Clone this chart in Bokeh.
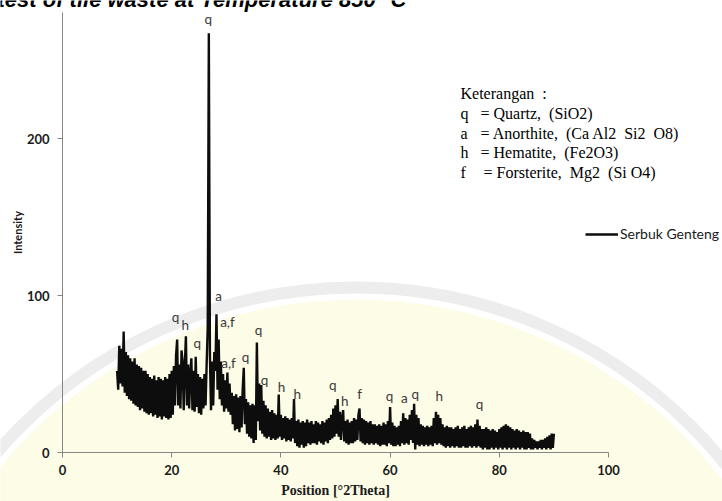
import numpy as np
from bokeh.plotting import figure
from bokeh.models import Range1d, Label, FixedTicker, ColumnDataSource
from bokeh.core.properties import value
from bokeh.embed import file_html
from bokeh.resources import INLINE

# ---- data: XRD pattern of "Serbuk Genteng", 0.2 deg steps from 10 to 90
START_DEG = 10.0
STEP_DEG = 0.2
intensity_rows = [
    [52, 40, 68, 44, 66],    # 10
    [42, 77, 38, 64, 36],    # 11
    [62, 34, 60, 33, 58],    # 12
    [31, 60, 30, 56, 29],    # 13
    [55, 27, 54, 28, 52],    # 14
    [26, 52, 25, 50, 24],    # 15
    [48, 25, 47, 23, 49],    # 16
    [24, 46, 22, 48, 23],    # 17
    [47, 21, 46, 23, 48],    # 18
    [22, 47, 21, 50, 22],    # 19
    [52, 24, 55, 30, 62],    # 20
    [72, 30, 56, 28, 65],    # 21
    [58, 27, 55, 74, 30],    # 22
    [56, 28, 50, 60, 27],    # 23
    [52, 26, 61, 29, 50],    # 24
    [25, 48, 24, 47, 28],    # 25
    [50, 30, 56, 80, 267],   # 26
    [62, 27, 58, 30, 64],    # 27
    [52, 88, 40, 72, 34],    # 28
    [58, 30, 50, 26, 46],    # 29
    [28, 51, 26, 44, 24],    # 30
    [38, 18, 36, 14, 37],    # 31
    [15, 35, 13, 36, 16],    # 32
    [40, 54, 18, 34, 12],    # 33
    [32, 10, 30, 9, 31],     # 34
    [6, 30, 8, 70, 20],      # 35
    [44, 14, 43, 12, 33],    # 36
    [10, 30, 9, 28, 10],     # 37
    [26, 8, 27, 9, 25],      # 38
    [8, 24, 9, 37, 10],      # 39
    [24, 8, 22, 9, 23],      # 40
    [7, 22, 8, 21, 7],       # 41
    [22, 9, 34, 6, 20],      # 42
    [4, 21, 3, 19, 5],       # 43
    [20, 3, 19, 4, 21],      # 44
    [6, 19, 5, 20, 6],       # 45
    [18, 6, 20, 5, 19],      # 46
    [7, 18, 6, 20, 5],       # 47
    [19, 7, 21, 6, 22],      # 48
    [8, 24, 9, 28, 10],      # 49
    [30, 12, 34, 10, 26],    # 50
    [8, 22, 27, 7, 20],      # 51
    [6, 21, 5, 19, 6],       # 52
    [20, 6, 22, 7, 21],      # 53
    [8, 24, 28, 7, 22],      # 54
    [6, 21, 5, 20, 6],       # 55
    [19, 5, 20, 6, 18],      # 56
    [5, 18, 6, 17, 5],       # 57
    [18, 4, 17, 5, 19],      # 58
    [5, 18, 4, 20, 6],       # 59
    [29, 5, 19, 4, 17],      # 60
    [4, 16, 5, 17, 4],       # 61
    [20, 6, 25, 5, 22],      # 62
    [6, 21, 5, 24, 8],       # 63
    [27, 6, 31, 2, 24],      # 64
    [5, 22, 4, 18, 5],       # 65
    [17, 4, 16, 5, 17],      # 66
    [4, 16, 5, 17, 4],       # 67
    [22, 6, 26, 5, 24],      # 68
    [6, 22, 5, 18, 4],       # 69
    [16, 3, 17, 4, 16],      # 70
    [3, 16, 4, 15, 3],       # 71
    [16, 4, 17, 3, 15],      # 72
    [3, 16, 4, 17, 3],       # 73
    [15, 3, 16, 4, 17],      # 74
    [3, 16, 4, 18, 3],       # 75
    [21, 4, 17, 3, 15],      # 76
    [2, 15, 3, 16, 2],       # 77
    [15, 2, 14, 3, 15],      # 78
    [2, 14, 3, 13, 2],       # 79
    [15, 3, 16, 2, 17],      # 80
    [3, 18, 2, 17, 3],       # 81
    [16, 2, 15, 3, 14],      # 82
    [2, 15, 3, 14, 2],       # 83
    [13, 3, 14, 2, 13],      # 84
    [2, 13, 3, 12, 2],       # 85
    [9, 2, 8, 3, 7],         # 86
    [2, 7, 3, 8, 2],         # 87
    [8, 3, 9, 2, 10],        # 88
    [3, 11, 2, 12, 3],       # 89
    [12],                    # 90
]
intensity = [v for row in intensity_rows for v in row]
two_theta = [round(START_DEG + i * STEP_DEG, 1) for i in range(len(intensity))]

# peak annotations
peak_labels = ["q", "a", "a,f", "q", "h", "q", "a,f", "q", "q", "q", "h", "h",
               "q", "h", "f", "q", "a", "q", "h", "q"]
peak_x = [26.7, 28.6, 30.2, 20.7, 22.5, 24.7, 30.4, 33.5, 35.9, 37.0, 40.1, 43.0,
          49.5, 51.7, 54.4, 59.9, 62.6, 64.6, 69.0, 76.4]
peak_y = [276, 100, 83, 86, 81, 70, 57, 61, 78, 46, 42, 37,
          43, 33, 37, 36, 35, 37, 36, 31]

NB = "\u00a0"
legend_title = "Keterangan" + NB + " :"
legend_keys = ["q", "a", "h", "f"]
legend_texts = ["= Quartz," + NB + " (SiO2)",
                "= Anorthite," + NB + " (Ca Al2" + NB + " Si2" + NB + " O8)",
                "= Hematite," + NB + " (Fe2O3)",
                "= Forsterite," + NB + " Mg2" + NB + " (Si O4)"]
series_name = "Serbuk Genteng"
title_text = "test of tile waste at Temperature 850 \u00b0C"

x_ticks = [0, 20, 40, 60, 80, 100]
y_ticks = [0, 100, 200]
X_AXIS_END = 100
Y_AXIS_END = 280

# watermark (decorative background): pale disc with a light grey rim
WM_CENTER = (53.8, -196.8)
WM_FILL_SIZE = (169.2, 588.5)
WM_RING_SIZE = (173.6, 603.8)

W, H = 722, 501
ORIGIN_PX, ORIGIN_PY = 62, 452   # where (0, 0) sits on the canvas
PX_PER_DEG = 5.46
PX_PER_UNIT = 1.57

p = figure(width=W, height=H, output_backend="svg", toolbar_location=None,
           x_range=Range1d(-ORIGIN_PX / PX_PER_DEG, (W - ORIGIN_PX) / PX_PER_DEG),
           y_range=Range1d(-(H - ORIGIN_PY) / PX_PER_UNIT, ORIGIN_PY / PX_PER_UNIT),
           min_border_left=0, min_border_right=0, min_border_top=0, min_border_bottom=0)
p.outline_line_color = None
p.grid.visible = False
p.background_fill_color = "white"
p.border_fill_color = "white"

p.ellipse(x=[WM_CENTER[0]], y=[WM_CENTER[1]], width=WM_FILL_SIZE[0], height=WM_FILL_SIZE[1],
          fill_color="#fdfce6", line_color=None, level="underlay")
p.ellipse(x=[WM_CENTER[0]], y=[WM_CENTER[1]], width=WM_RING_SIZE[0], height=WM_RING_SIZE[1],
          fill_color=None, line_color="#ededed", line_width=12, level="underlay")

src = ColumnDataSource(dict(x=two_theta, y=intensity))
p.line("x", "y", source=src, line_color="#0d0d0d", line_width=2.4, legend_label=series_name)

lab_src = ColumnDataSource(dict(x=peak_x, y=peak_y, t=peak_labels))
p.text("x", "y", text="t", source=lab_src, text_font=value("Lato"), text_font_size="13.5px",
       text_color="#3a3a3a", text_align="center", text_baseline="middle")

# axes, pinned at the data origin
for ax in (p.xaxis[0], p.yaxis[0]):
    ax.fixed_location = 0
    ax.axis_line_color = "#868686"
    ax.major_tick_line_color = "#868686"
    ax.major_tick_out = 5
    ax.major_tick_in = 0
    ax.minor_tick_line_color = None
    ax.major_label_text_font_style = "bold"
    ax.major_label_text_color = "#1a1a1a"
    ax.axis_label_text_color = "#1a1a1a"
    ax.axis_label_text_font_style = "bold"

p.xaxis.bounds = (0, X_AXIS_END)
p.yaxis.bounds = (0, Y_AXIS_END)
p.xaxis.ticker = FixedTicker(ticks=x_ticks)
p.yaxis.ticker = FixedTicker(ticks=y_ticks)
p.xaxis.major_label_text_font = "Lato"
p.xaxis.major_label_text_font_size = "13px"
p.xaxis.major_label_standoff = 7
p.xaxis.axis_label = "Position [\u00b02Theta]"
p.xaxis.axis_label_text_font = "Liberation Serif"
p.xaxis.axis_label_text_font_size = "14px"
p.xaxis.axis_label_standoff = 5

p.yaxis.major_label_text_font = "Lato"
p.yaxis.major_label_text_font_size = "13px"
p.yaxis.major_label_standoff = 8
p.yaxis.axis_label = "Intensity"
p.yaxis.axis_label_text_font = "Lato"
p.yaxis.axis_label_text_font_size = "11px"
p.yaxis.axis_label_standoff = 0

# series legend (location relative to the frame = canvas)
lg = p.legend[0]
lg.location = (585, 259)
lg.border_line_color = None
lg.background_fill_alpha = 0
lg.padding = 0
lg.margin = 0
lg.spacing = 0
lg.glyph_width = 33
lg.glyph_height = 14
lg.label_height = 14
lg.label_standoff = 2
lg.label_text_font = "Lato"
lg.label_text_font_size = "14px"
lg.label_text_color = "#1a1a1a"

# "Keterangan" text block (screen units: x = px, y = H - py)
KX, KEQ = 460, 480
KY0, KDY = 407.7, 19.6
p.add_layout(Label(x=KX, y=KY0, x_units="screen", y_units="screen", text=legend_title,
                   text_font="Liberation Serif", text_font_size="16px", text_color="black",
                   text_baseline="middle"))
for i, (k, t) in enumerate(zip(legend_keys, legend_texts)):
    yy = KY0 - KDY * (i + 1)
    p.add_layout(Label(x=KX, y=yy, x_units="screen", y_units="screen", text=k,
                       text_font="Liberation Serif", text_font_size="16px", text_color="black",
                       text_baseline="middle"))
    p.add_layout(Label(x=KEQ + (3 if k == "f" else 0), y=yy, x_units="screen", y_units="screen", text=t,
                       text_font="Liberation Serif", text_font_size="16px", text_color="black",
                       text_baseline="middle"))

# cropped caption above the chart
p.add_layout(Label(x=-3, y=H + 1, x_units="screen", y_units="screen", text=title_text,
                   text_font="Liberation Sans", text_font_size="22px", text_font_style="bold italic",
                   text_color="black", text_baseline="alphabetic"))

open("out.html", "w").write(file_html(p, INLINE))
